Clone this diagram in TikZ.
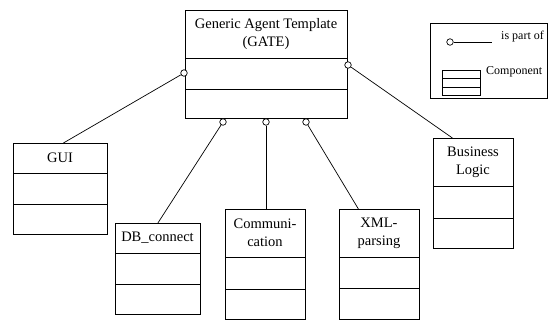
\documentclass[tikz,border=0pt]{standalone}
\usepackage{fontspec}
\setmainfont{Liberation Serif}
\tikzset{
  x=1pt,y=-1pt,
  box/.style={draw,line width=0.8pt,inner sep=0pt,anchor=north west},
  cline/.style={line width=0.8pt},
  title/.style={font=\fontsize{14.5}{18}\selectfont,align=center,inner sep=0pt},
  legtext/.style={font=\fontsize{12}{14}\selectfont,inner sep=0pt,anchor=west},
  joint/.style={circle,draw,line width=0.7pt,fill=white,inner sep=0pt,minimum size=6.5pt},
  conn/.style={line width=0.7pt},
}
\newcommand\compbox[8]{%
  \node[box,minimum width=#4pt,minimum height={(#5+#6+#7)*1pt}] (#1) at (#2,#3) {};
  \draw[cline] (#2,{#3+#5}) -- ({#2+#4},{#3+#5});
  \draw[cline] (#2,{#3+#5+#6}) -- ({#2+#4},{#3+#5+#6});
  \node[title] (#1t) at ({#2+#4/2},{#3+#5/2}) {#8};
}
\begin{document}
\begin{tikzpicture}
\useasboundingbox (0,0) rectangle (548,321);
% main components
\compbox{gate}{185}{10}{162}{48}{31}{29}{Generic Agent Template\\(GATE)}
\compbox{gui}{13}{143}{94}{30}{31}{30}{GUI}
\compbox{db}{115}{223}{85}{30}{31}{30}{DB\_connect}
\compbox{comm}{225}{209}{80}{48}{32}{30}{Communi-\\cation}
\compbox{xml}{339}{209}{80}{48}{31}{31}{XML-\\parsing}
\compbox{bl}{433}{138}{80}{48}{32}{30}{Business\\Logic}
% joints
\node[joint] (jl) at (184,73) {};
\node[joint] (jr) at (348,65) {};
\node[joint] (jdb) at (223,122) {};
\node[joint] (jc) at (266,122) {};
\node[joint] (jx) at (306,122) {};
% connectors
\draw[conn] (jl) -- ([xshift=3pt]gui.north);
\draw[conn] (jr) -- ([xshift=-21pt]bl.north);
\draw[conn] (jdb) -- (db.north);
\draw[conn] (jc) -- (jc |- comm.north);
\draw[conn] (jx) -- ([xshift=-21pt]xml.north);
% legend
\node[box,minimum width=117pt,minimum height=75pt] (legend) at (430,23) {};
\node[joint] (lj) at (450,42) {};
\coordinate (le) at (492,42);
\draw[conn] (lj) -- (le);
\node[legtext] (lt1) at (501,37) {is part of};
\compbox{lcomp}{442}{70}{38}{8}{9}{8}{}
\node[legtext] (lt2) at (486,72) {Component};
\end{tikzpicture}
\end{document}
